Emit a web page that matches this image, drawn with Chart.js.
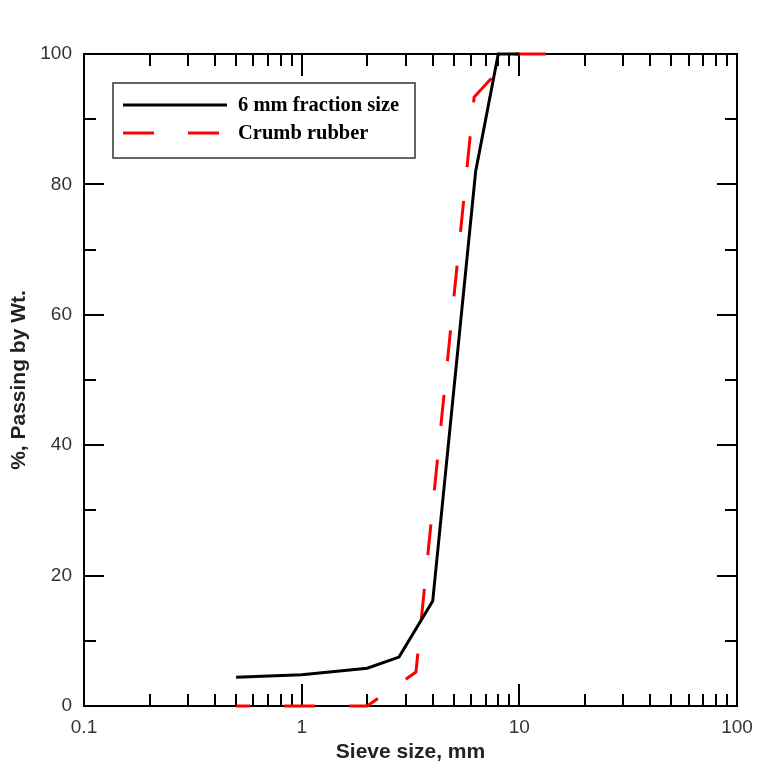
<!DOCTYPE html>
<html>
<head>
<meta charset="utf-8">
<title>Sieve analysis</title>
<script src="https://cdn.jsdelivr.net/npm/chart.js@4.4.1/dist/chart.umd.min.js"></script>
<style>
  html, body { margin: 0; padding: 0; background: #fff; }
  #wrap { width: 783px; height: 781px; }
</style>
</head>
<body>
<div id="wrap"><canvas id="sieve-chart" width="783" height="781"></canvas></div>
<script>
// Grading curves
const fractionSize = [0.5, 1, 2, 2.8, 4, 6.3, 8, 10];
const fractionPassing = [4.4, 4.8, 5.8, 7.5, 16.1, 82, 100, 100];

const rubberSize = [0.5, 1, 2, 3.35, 6.2, 7.6, 9.5, 14];
const rubberPassing = [0, 0, 0, 5.2, 93.4, 96.6, 100, 100];

// Axis ticks
const xMajorTicks = [0.1, 1, 10, 100];
const xMinorSteps = [2, 3, 4, 5, 6, 7, 8, 9];
const yMajorTicks = [0, 20, 40, 60, 80, 100];
const yMinorTicks = [10, 30, 50, 70, 90];

const seriesLabels = ['6 mm fraction size', 'Crumb rubber'];

const toPoints = (xs, ys) => xs.map((x, i) => ({ x: x, y: ys[i] }));

// all log ticks: majors plus 2..9 inside each decade
function buildXTicks() {
    const ticks = [];
    xMajorTicks.forEach((m, i) => {
        ticks.push({ value: m });
        if (i < xMajorTicks.length - 1) {
            xMinorSteps.forEach(s => ticks.push({ value: +(m * s).toPrecision(3) }));
        }
    });
    return ticks;
}

/**
 * Box frame with inward tick marks on all four sides.
 */
const frameTicks = {
    id: 'frameTicks',
    beforeDatasetsDraw(chart) {
        const { ctx, chartArea: a, scales } = chart;
        ctx.save();
        ctx.strokeStyle = '#000';
        ctx.lineWidth = 2;
        ctx.strokeRect(a.left, a.top, a.right - a.left, a.bottom - a.top);

        ctx.beginPath();
        scales.x.ticks.forEach(t => {
            const px = Math.round(scales.x.getPixelForValue(t.value));
            if (px <= a.left + 1 || px >= a.right - 1) return;
            const len = xMajorTicks.includes(t.value) ? 22 : 12;
            ctx.moveTo(px, a.bottom); ctx.lineTo(px, a.bottom - len);
            ctx.moveTo(px, a.top); ctx.lineTo(px, a.top + len);
        });
        scales.y.ticks.forEach(t => {
            const py = Math.round(scales.y.getPixelForValue(t.value));
            if (py <= a.top + 1 || py >= a.bottom - 1) return;
            const len = yMajorTicks.includes(t.value) ? 20 : 12;
            ctx.moveTo(a.left, py); ctx.lineTo(a.left + len, py);
            ctx.moveTo(a.right, py); ctx.lineTo(a.right - len, py);
        });
        ctx.stroke();
        ctx.restore();
    }
};

/**
 * Legend box drawn inside the plot, upper left.
 */
const boxLegend = {
    id: 'boxLegend',
    afterDatasetsDraw(chart) {
        const { ctx, chartArea: a } = chart;
        const left = a.left + 29, top = a.top + 29;
        ctx.save();
        ctx.fillStyle = '#fff';
        ctx.fillRect(left, top, 302, 75);
        ctx.strokeStyle = '#333';
        ctx.lineWidth = 1.5;
        ctx.strokeRect(left, top, 302, 75);

        ctx.font = 'bold 20.5px "Liberation Serif", "Times New Roman", serif';
        ctx.textBaseline = 'middle';
        chart.data.datasets.forEach((ds, i) => {
            const y = top + 22 + i * 28;
            ctx.beginPath();
            ctx.strokeStyle = ds.borderColor;
            ctx.lineWidth = ds.borderWidth;
            ctx.setLineDash(ds.borderDash || []);
            ctx.moveTo(left + 10, y);
            ctx.lineTo(left + (ds.borderDash ? 107 : 114), y);
            ctx.stroke();
            ctx.setLineDash([]);
            ctx.fillStyle = '#000';
            ctx.fillText(ds.label, left + 125, y + 1);
        });
        ctx.restore();
    }
};

document.addEventListener('DOMContentLoaded', () => {
    const ctx = document.getElementById('sieve-chart').getContext('2d');
    new Chart(ctx, {
        type: 'line',
        data: {
            datasets: [{
                label: seriesLabels[0],
                data: toPoints(fractionSize, fractionPassing),
                borderColor: '#000',
                borderWidth: 3,
                pointRadius: 0,
                tension: 0,
                clip: false
            }, {
                label: seriesLabels[1],
                data: toPoints(rubberSize, rubberPassing),
                borderColor: '#ff0000',
                borderWidth: 3,
                borderDash: [31, 34],
                borderDashOffset: 17,
                pointRadius: 0,
                tension: 0,
                clip: false
            }]
        },
        options: {
            responsive: false,
            animation: false,
            devicePixelRatio: 1,
            layout: { padding: { left: 3, top: 54, right: 46, bottom: 12 } },
            plugins: {
                legend: { display: false },
                tooltip: { enabled: false }
            },
            scales: {
                x: {
                    type: 'logarithmic',
                    min: 0.1,
                    max: 100,
                    afterBuildTicks: scale => { scale.ticks = buildXTicks(); },
                    afterFit: scale => { scale.height = 63; },
                    grid: { display: false, drawTicks: false },
                    border: { display: false },
                    ticks: {
                        autoSkip: false,
                        maxRotation: 0,
                        padding: 10,
                        color: '#333',
                        font: { family: '"Liberation Sans", Arial, sans-serif', size: 19 },
                        callback: v => xMajorTicks.includes(v) ? String(v) : ''
                    },
                    title: {
                        display: true,
                        text: 'Sieve size, mm',
                        color: '#222',
                        font: { family: '"Liberation Sans", Arial, sans-serif', size: 21, weight: 'bold' }
                    }
                },
                y: {
                    min: 0,
                    max: 100,
                    afterBuildTicks: scale => {
                        scale.ticks = yMajorTicks.concat(yMinorTicks)
                            .sort((p, q) => p - q).map(v => ({ value: v }));
                    },
                    afterFit: scale => { scale.width = 81; },
                    grid: { display: false, drawTicks: false },
                    border: { display: false },
                    ticks: {
                        autoSkip: false,
                        padding: 12,
                        color: '#333',
                        font: { family: '"Liberation Sans", Arial, sans-serif', size: 19 },
                        callback: v => yMajorTicks.includes(v) ? String(v) : ''
                    },
                    title: {
                        display: true,
                        text: '%, Passing by Wt.',
                        color: '#222',
                        font: { family: '"Liberation Sans", Arial, sans-serif', size: 21, weight: 'bold' }
                    }
                }
            }
        },
        plugins: [frameTicks, boxLegend]
    });
});
</script>
</body>
</html>
